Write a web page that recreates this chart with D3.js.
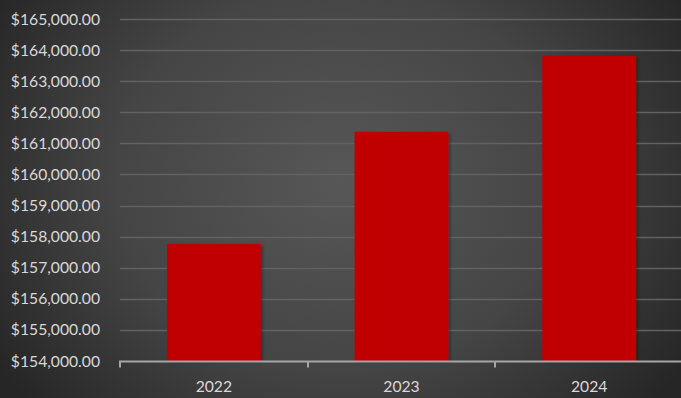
<!DOCTYPE html>
<html>
<head>
<meta charset="utf-8">
<script src="https://cdn.jsdelivr.net/npm/d3@7"></script>
<style>
  html, body { margin: 0; padding: 0; background: #2a2a2a; }
  svg { display: block; }
</style>
</head>
<body>
<div id="chart"></div>
<script>
// Annual totals per year
const years = ["2022", "2023", "2024"];
const totals = [157760, 161370, 163810];
// Value axis ticks
const yTicks = [154000, 155000, 156000, 157000, 158000, 159000, 160000, 161000, 162000, 163000, 164000, 165000];

const W = 681, H = 398;
const margin = { top: 19, right: -2, bottom: 37, left: 120 };

const svg = d3.select("#chart").append("svg")
  .attr("width", W).attr("height", H);

const defs = svg.append("defs");
const bg = defs.append("radialGradient")
  .attr("id", "bg")
  .attr("cx", "50%").attr("cy", "45%")
  .attr("r", "60%")
  .attr("gradientTransform", "translate(0.5,0.45) scale(1,1.45) translate(-0.5,-0.45)");
bg.append("stop").attr("offset", "0%").attr("stop-color", "#575757");
bg.append("stop").attr("offset", "55%").attr("stop-color", "#454545");
bg.append("stop").attr("offset", "100%").attr("stop-color", "#262626");

const shadow = defs.append("filter").attr("id", "shadow")
  .attr("x", "-10%").attr("y", "-10%").attr("width", "130%").attr("height", "130%");
shadow.append("feDropShadow")
  .attr("dx", 2).attr("dy", 1).attr("stdDeviation", 1.5)
  .attr("flood-color", "#000").attr("flood-opacity", 0.3);

svg.append("rect").attr("width", W).attr("height", H).attr("fill", "url(#bg)");

const x = d3.scaleBand()
  .domain(years)
  .range([margin.left, W - margin.right])
  .paddingInner(0.5).paddingOuter(0.25);

const y = d3.scaleLinear()
  .domain([154000, 165000])
  .range([H - margin.bottom, margin.top]);

const fmt = v => "$" + d3.format(",.2f")(v);

// Horizontal gridlines
svg.append("g")
  .selectAll("line")
  .data(yTicks.slice(1))
  .join("line")
  .attr("x1", margin.left).attr("x2", W)
  .attr("y1", d => Math.round(y(d)) + 0.5)
  .attr("y2", d => Math.round(y(d)) + 0.5)
  .attr("stroke", "#626262")
  .attr("stroke-width", 1.5);

// Value axis labels
const yAxis = d3.axisLeft(y).tickValues(yTicks).tickFormat(fmt).tickSize(0).tickPadding(20);
const gy = svg.append("g")
  .attr("transform", `translate(${margin.left},0)`)
  .call(yAxis);
gy.select(".domain").remove();
gy.selectAll("text")
  .attr("fill", "#d9d9d9")
  .attr("font-family", "Lato, 'Open Sans', sans-serif")
  .attr("font-size", 15.7);

// Bars
svg.append("g")
  .selectAll("rect")
  .data(years.map((yr, i) => ({ yr, v: totals[i] })))
  .join("rect")
  .attr("x", d => x(d.yr))
  .attr("width", x.bandwidth())
  .attr("y", d => y(d.v))
  .attr("height", d => y(154000) - y(d.v))
  .attr("fill", "#c00000")
  .attr("filter", "url(#shadow)");

// Category axis with boundary ticks
const base = Math.round(y(154000)) + 0.5;
const step = x.step();
const edges = [margin.left, ...years.slice(1).map(yr => x(yr) - step * x.paddingInner() / 2)];
const gx = svg.append("g");
gx.append("line")
  .attr("x1", margin.left - 1).attr("x2", W)
  .attr("y1", base).attr("y2", base)
  .attr("stroke", "#a6a6a6").attr("stroke-width", 2);
gx.selectAll("line.tick")
  .data(edges)
  .join("line")
  .attr("class", "tick")
  .attr("x1", d => Math.round(d)).attr("x2", d => Math.round(d))
  .attr("y1", base).attr("y2", base + 6)
  .attr("stroke", "#a6a6a6").attr("stroke-width", 2);
gx.selectAll("text")
  .data(years)
  .join("text")
  .attr("x", d => x(d) + x.bandwidth() / 2)
  .attr("y", 392)
  .attr("text-anchor", "middle")
  .attr("fill", "#d9d9d9")
  .attr("font-family", "Lato, 'Open Sans', sans-serif")
  .attr("font-size", 15.7)
  .text(d => d);
</script>
</body>
</html>
